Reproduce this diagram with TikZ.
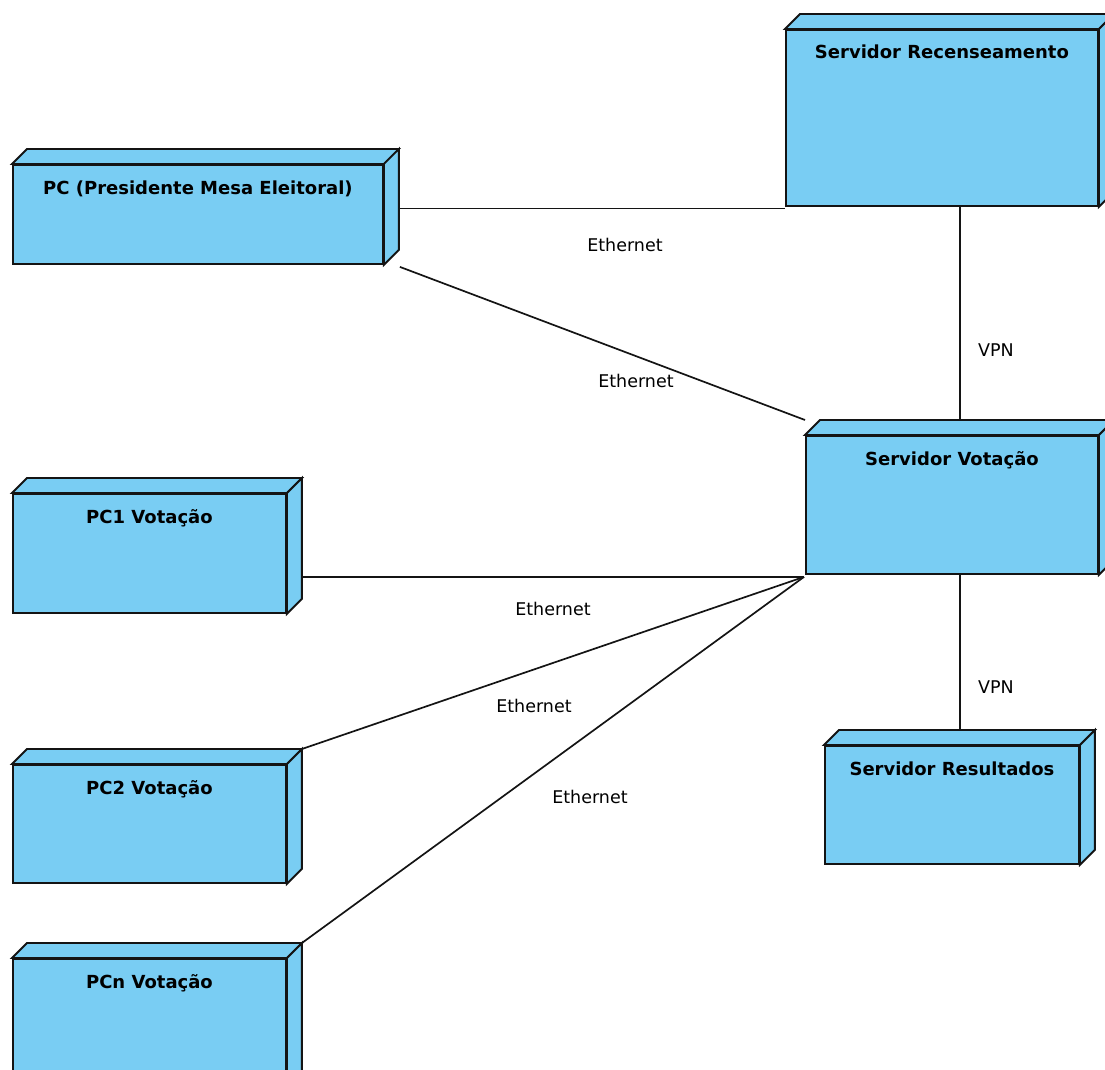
\documentclass[tikz,border=0pt]{standalone}
\usepackage{fontspec}
\setmainfont{DejaVu Sans}
\definecolor{boxblue}{RGB}{121,205,243}
\definecolor{ink}{RGB}{20,20,20}
\tikzset{
  devbox/.style={draw=ink, fill=boxblue, line width=1.9pt, rectangle,
    inner sep=0pt, anchor=north west},
  boxface/.style={draw=ink, fill=boxblue, line width=1.9pt, line join=miter},
  devtitle/.style={anchor=base, inner sep=0pt, font=\bfseries\fontsize{18}{20}\selectfont},
  wire/.style={draw=ink, line width=1.7pt},
  wirelabel/.style={inner sep=0pt, font=\fontsize{17.5}{20}\selectfont}
}
% top and side faces of a 3D node box, plus corner coordinates of the back edges
\newcommand\boxfaces[1]{%
  \coordinate (#1-tl) at ([xshift=15pt,yshift=15pt]#1.north west);
  \coordinate (#1-tr) at ([xshift=15pt,yshift=15pt]#1.north east);
  \coordinate (#1-br) at ([xshift=15pt,yshift=15pt]#1.south east);
  \filldraw[boxface] (#1.north west) -- (#1-tl) -- (#1-tr) -- (#1.north east) -- cycle;
  \filldraw[boxface] (#1.north east) -- (#1-tr) -- (#1-br) -- (#1.south east) -- cycle;
}
\begin{document}
\begin{tikzpicture}[x=1pt,y=-1pt]
\useasboundingbox (0,0) rectangle (1105,1070);

% nodes (front faces)
\node[devbox, minimum width=370pt, minimum height=99pt]  (pcp) at (12,164) {};
\node[devbox, minimum width=312pt, minimum height=176pt] (rec) at (785,29) {};
\node[devbox, minimum width=292pt, minimum height=138pt] (vot) at (805,435) {};
\node[devbox, minimum width=273pt, minimum height=119pt] (pc1) at (12,493) {};
\node[devbox, minimum width=273pt, minimum height=118pt] (pc2) at (12,764) {};
\node[devbox, minimum width=273pt, minimum height=130pt] (pcn) at (12,958) {};
\node[devbox, minimum width=254pt, minimum height=118pt] (res) at (824,745) {};

\boxfaces{pcp}
\boxfaces{rec}
\boxfaces{vot}
\boxfaces{pc1}
\boxfaces{pc2}
\boxfaces{pcn}
\boxfaces{res}

% titles
\node[devtitle] (pcp-t) at ([yshift=-30pt]pcp.north) {PC (Presidente Mesa Eleitoral)};
\node[devtitle] (rec-t) at ([yshift=-30pt]rec.north) {Servidor Recenseamento};
\node[devtitle] (vot-t) at ([yshift=-30pt]vot.north) {Servidor Votação};
\node[devtitle] (pc1-t) at ([yshift=-30pt]pc1.north) {PC1 Votação};
\node[devtitle] (pc2-t) at ([yshift=-30pt]pc2.north) {PC2 Votação};
\node[devtitle] (pcn-t) at ([yshift=-30pt]pcn.north) {PCn Votação};
\node[devtitle] (res-t) at ([yshift=-30pt]res.north) {Servidor Resultados};

% connector anchor points
\coordinate (bus) at (960,0);
\coordinate (hub) at ([xshift=-1pt,yshift=-2pt]vot.south west);
\coordinate (pcp-a) at ([xshift=16pt,yshift=6pt]pcp.east);
\coordinate (pcp-b) at ([xshift=16pt,yshift=-2pt]pcp.south east);
\coordinate (vot-in) at ([yshift=15pt]vot.north west);

% connectors
\draw[wire] (pcp-a) -- (pcp-a -| rec.west);
\draw[wire] (pcp-b) -- (vot-in);
\draw[wire] (rec.south -| bus) -- (vot-tl -| bus);
\draw[wire] (hub) -- (hub -| pc1-tr);
\draw[wire] (pc2-tr) -- (hub);
\draw[wire] (pcn-tr) -- (hub);
\draw[wire] (vot.south -| bus) -- (res-tl -| bus);

% connector labels
\node[wirelabel] (l1) at (625,245) {Ethernet};
\node[wirelabel] (l2) at (636,381) {Ethernet};
\node[wirelabel] (l3) at (996,350) {VPN};
\node[wirelabel] (l4) at (553,609) {Ethernet};
\node[wirelabel] (l5) at (534,706) {Ethernet};
\node[wirelabel] (l6) at (590,797) {Ethernet};
\node[wirelabel] (l7) at (996,687) {VPN};
\end{tikzpicture}
\end{document}
